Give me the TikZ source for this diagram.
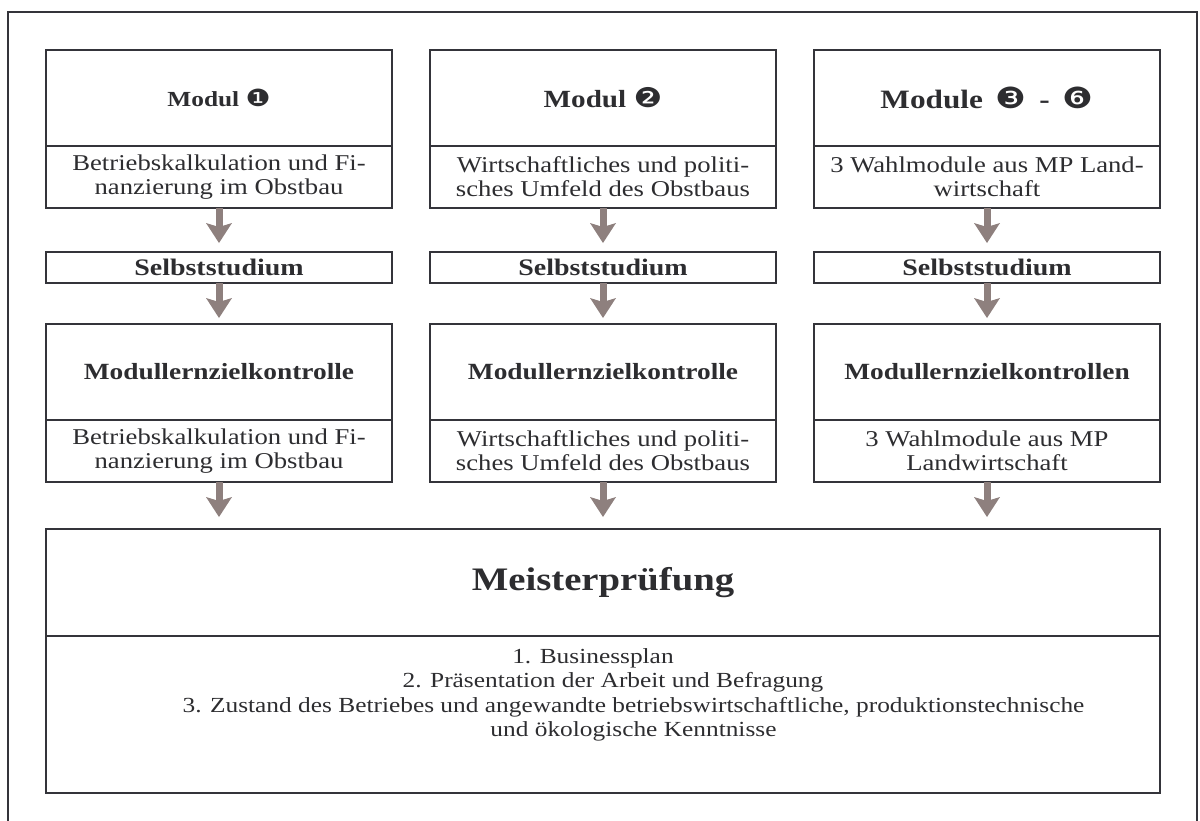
\documentclass[tikz,border=0pt]{standalone}
\usepackage{fontspec}
\setmainfont{Liberation Serif}[FakeStretch=1.18]
\newfontfamily\dingfont{DejaVu Sans}[FakeStretch=1.18,Scale=1.1]
\usetikzlibrary{arrows.meta,positioning}
\definecolor{framegray}{RGB}{52,52,58}
\definecolor{arrowgray}{RGB}{142,128,126}
\definecolor{textgray}{RGB}{45,45,48}
\newcommand{\circnum}[1]{{\dingfont\mdseries #1}}
\tikzset{part/.style={draw=framegray,line width=1.6pt,inner sep=0pt,outer sep=0pt,
              minimum width=346pt,text=textgray},
         head part/.style={part,minimum height=96pt},
         text part/.style={part,minimum height=62pt,align=center,font=\fontsize{22.6}{24}\selectfont},
         study part/.style={part,minimum height=31pt,font=\bfseries\fontsize{23.7}{25}\selectfont},
         check part/.style={head part,font=\bfseries\fontsize{23.2}{25}\selectfont},
         flow/.style={draw=arrowgray,line width=7pt,
              -{Stealth[width=26pt,length=20pt,inset=4pt,line width=0pt]}},
         item/.style={anchor=base,inner sep=0pt,text=textgray,align=center,
              font=\fontsize{21.5}{24.5}\selectfont},
            }

\begin{document}
\begin{tikzpicture}[x=1pt,y=-1pt]
	\useasboundingbox (0,0) rectangle (1200,820);
	% frame, open at the bottom
	\draw[framegray,line width=1.6pt] (8,840) -- (8,12) -- (1197,12) -- (1197,840);

	% modules
	\node[head part,font=\bfseries\fontsize{21.5}{24}\selectfont] (mod1) at (219,98) {Modul \circnum{❶}};
	\node[head part,font=\bfseries\fontsize{24.7}{27}\selectfont] (mod2) at (603,98) {Modul \circnum{❷}};
	\node[head part,font=\bfseries\fontsize{26.5}{29}\selectfont] (mod3) at (987,98)
	     {Module\hspace{5pt} \circnum{❸}\hspace{5pt} -\hspace{5pt} \circnum{❻}};
	\node[text part,below=0pt of mod1] (topic1) {Betriebskalkulation und Fi-\\nanzierung im Obstbau};
	\node[text part,below=0pt of mod2] (topic2) {Wirtschaftliches und politi-\\sches Umfeld des Obstbaus};
	\node[text part,below=0pt of mod3] (topic3) {3 Wahlmodule aus MP Land-\\wirtschaft};

	% self study
	\node[study part,below=44pt of topic1] (study1) {Selbststudium};
	\node[study part,below=44pt of topic2] (study2) {Selbststudium};
	\node[study part,below=44pt of topic3] (study3) {Selbststudium};

	% module checks
	\node[check part,below=41pt of study1] (check1) {Modullernzielkontrolle};
	\node[check part,below=41pt of study2] (check2) {Modullernzielkontrolle};
	\node[check part,below=41pt of study3] (check3) {Modullernzielkontrollen};
	\node[text part,below=0pt of check1] (ctopic1) {Betriebskalkulation und Fi-\\nanzierung im Obstbau};
	\node[text part,below=0pt of check2] (ctopic2) {Wirtschaftliches und politi-\\sches Umfeld des Obstbaus};
	\node[text part,below=0pt of check3] (ctopic3) {3 Wahlmodule aus MP\\Landwirtschaft};

	% master exam
	\node[part,minimum width=1114pt,minimum height=107pt,
	      font=\bfseries\fontsize{32.8}{36}\selectfont] (exam) at (603,582.5) {Meisterprüfung};
	\node[part,minimum width=1114pt,minimum height=157pt,below=0pt of exam] (tasks) {};
	\node[item] (task1) at (593,663) {1. Businessplan};
	\node[item] (task2) at (613,687.5) {2. Präsentation der Arbeit und Befragung};
	\node[item] (task3) at (633.5,736.5) {3. Zustand des Betriebes und angewandte betriebswirtschaftliche, produktionstechnische\\und ökologische Kenntnisse};

	\draw[flow,shorten >=9pt] (topic1) -- (study1);
	\draw[flow,shorten >=9pt] (topic2) -- (study2);
	\draw[flow,shorten >=9pt] (topic3) -- (study3);
	\draw[flow,shorten >=6pt] (study1) -- (check1);
	\draw[flow,shorten >=6pt] (study2) -- (check2);
	\draw[flow,shorten >=6pt] (study3) -- (check3);
	\draw[flow,shorten >=12pt] (ctopic1.south) -- (ctopic1.south |- exam.north);
	\draw[flow,shorten >=12pt] (ctopic2.south) -- (exam.north);
	\draw[flow,shorten >=12pt] (ctopic3.south) -- (ctopic3.south |- exam.north);
\end{tikzpicture}
\end{document}
